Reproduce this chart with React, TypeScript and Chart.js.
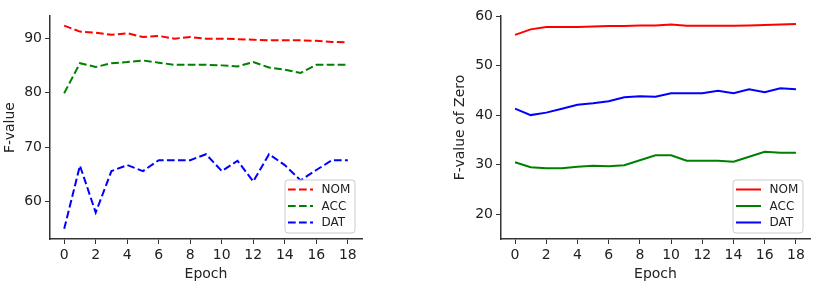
import React, { useEffect, useRef } from 'react';
import { Chart, registerables } from 'chart.js';

Chart.register(...registerables);

const epochs = [0, 1, 2, 3, 4, 5, 6, 7, 8, 9, 10, 11, 12, 13, 14, 15, 16, 17, 18];
const xTicks = [0, 2, 4, 6, 8, 10, 12, 14, 16, 18];
const leftYTicks = [60, 70, 80, 90];
const rightYTicks = [20, 30, 40, 50, 60];
const seriesNames = ['NOM', 'ACC', 'DAT'];
const seriesColors = ['#ff0000', '#008000', '#0000ff'];

// Left panel: F-value
const fNom = [92.3, 91.2, 91.0, 90.6, 90.9, 90.2, 90.4, 89.9, 90.2, 89.9, 89.9, 89.8, 89.7, 89.6, 89.6, 89.6, 89.5, 89.3, 89.2];
const fAcc = [79.9, 85.4, 84.7, 85.4, 85.6, 85.9, 85.5, 85.1, 85.1, 85.1, 85.0, 84.8, 85.6, 84.6, 84.2, 83.6, 85.1, 85.1, 85.1];
const fDat = [55.0, 66.6, 58.0, 65.6, 66.7, 65.6, 67.6, 67.6, 67.6, 68.7, 65.6, 67.5, 63.7, 68.7, 66.7, 63.9, 65.8, 67.6, 67.6];

// Right panel: F-value of Zero
const zNom = [56.2, 57.3, 57.8, 57.8, 57.8, 57.9, 58.0, 58.0, 58.1, 58.1, 58.3, 58.05, 58.05, 58.05, 58.05, 58.1, 58.2, 58.3, 58.4];
const zAcc = [30.5, 29.5, 29.3, 29.3, 29.6, 29.8, 29.7, 29.9, 30.9, 31.9, 31.9, 30.8, 30.8, 30.8, 30.6, 31.6, 32.6, 32.4, 32.4];
const zDat = [41.3, 40.0, 40.5, 41.3, 42.1, 42.4, 42.8, 43.6, 43.8, 43.7, 44.4, 44.4, 44.4, 44.9, 44.4, 45.2, 44.6, 45.4, 45.2];

const FONT = '"DejaVu Sans", sans-serif';
const AXIS_COLOR = '#333333';
const TEXT_COLOR = '#222222';

const boxLegend = {
  id: 'boxLegend',
  afterDraw(chart: any) {
    const ctx = chart.ctx;
    const area = chart.chartArea;
    const w = 70;
    const h = 53;
    const right = area.right - 7;
    const bottom = area.bottom - 6;
    const left = right - w;
    const top = bottom - h;
    ctx.save();
    ctx.beginPath();
    const r = 3;
    ctx.moveTo(left + r, top);
    ctx.lineTo(left + w - r, top);
    ctx.quadraticCurveTo(left + w, top, left + w, top + r);
    ctx.lineTo(left + w, top + h - r);
    ctx.quadraticCurveTo(left + w, top + h, left + w - r, top + h);
    ctx.lineTo(left + r, top + h);
    ctx.quadraticCurveTo(left, top + h, left, top + h - r);
    ctx.lineTo(left, top + r);
    ctx.quadraticCurveTo(left, top, left + r, top);
    ctx.closePath();
    ctx.fillStyle = 'rgba(255,255,255,0.8)';
    ctx.fill();
    ctx.strokeStyle = '#cccccc';
    ctx.lineWidth = 1;
    ctx.stroke();
    chart.data.datasets.forEach((ds: any, i: number) => {
      const y = top + 9.5 + i * 16.5;
      ctx.beginPath();
      ctx.setLineDash(ds.borderDash || []);
      ctx.strokeStyle = ds.borderColor;
      ctx.lineWidth = ds.borderWidth;
      ctx.moveTo(left + 3, y);
      ctx.lineTo(left + 28, y);
      ctx.stroke();
      ctx.setLineDash([]);
      ctx.fillStyle = TEXT_COLOR;
      ctx.font = '12px ' + FONT;
      ctx.textBaseline = 'middle';
      ctx.textAlign = 'left';
      ctx.fillText(ds.label, left + 36.5, y + 0.5);
    });
    ctx.restore();
  },
};

function makeConfig(opts: {
  series: number[][];
  dash: number[];
  yMin: number;
  yMax: number;
  yTicks: number[];
  yTitle: string;
  yWidth: number;
  yTitleOffset: number;
  padRight: number;
}) {
  return {
    type: 'line',
    data: {
      datasets: opts.series.map((vals, i) => ({
        label: seriesNames[i],
        data: epochs.map((e, j) => ({ x: e, y: vals[j] })),
        borderColor: seriesColors[i],
        backgroundColor: seriesColors[i],
        borderWidth: 2,
        borderDash: opts.dash,
        pointRadius: 0,
        tension: 0,
        fill: false,
      })),
    },
    options: {
      animation: false,
      responsive: false,
      layout: { padding: { top: 16, right: opts.padRight, left: 0, bottom: 0 } },
      plugins: { legend: { display: false }, tooltip: { enabled: false } },
      scales: {
        x: {
          type: 'linear',
          min: -0.9,
          max: 18.9,
          afterBuildTicks: (s: any) => {
            s.ticks = xTicks.map((v) => ({ value: v }));
          },
          afterFit: (s: any) => {
            s.height = 49;
          },
          grid: { drawOnChartArea: false, drawTicks: true, tickLength: 5, color: AXIS_COLOR, lineWidth: 1 },
          border: { display: true, color: AXIS_COLOR, width: 1.5 },
          ticks: { color: TEXT_COLOR, font: { family: FONT, size: 14 }, padding: 3, maxRotation: 0 },
          title: {
            display: true,
            text: 'Epoch',
            color: TEXT_COLOR,
            font: { family: FONT, size: 14 },
            padding: { top: 0, bottom: 5.6 },
          },
        },
        y: {
          type: 'linear',
          min: opts.yMin,
          max: opts.yMax,
          afterBuildTicks: (s: any) => {
            s.ticks = opts.yTicks.map((v) => ({ value: v }));
          },
          afterFit: (s: any) => {
            s.width = opts.yWidth;
          },
          grid: { drawOnChartArea: false, drawTicks: true, tickLength: 5, color: AXIS_COLOR, lineWidth: 1 },
          border: { display: true, color: AXIS_COLOR, width: 1.5 },
          ticks: { color: TEXT_COLOR, font: { family: FONT, size: 14 }, padding: 3 },
          title: {
            display: true,
            text: opts.yTitle,
            color: TEXT_COLOR,
            font: { family: FONT, size: 14 },
            padding: { top: opts.yTitleOffset, bottom: 0 },
          },
        },
      },
    },
    plugins: [boxLegend],
  } as any;
}

export default function App() {
  const leftRef = useRef<HTMLCanvasElement>(null);
  const rightRef = useRef<HTMLCanvasElement>(null);

  useEffect(() => {
    const c1 = new Chart(
      leftRef.current as HTMLCanvasElement,
      makeConfig({
        series: [fNom, fAcc, fDat],
        dash: [7.7, 3.3],
        yMin: 53.14,
        yMax: 94.06,
        yTicks: leftYTicks,
        yTitle: 'F-value',
        yWidth: 50,
        yTitleOffset: 1.6,
        padRight: 53,
      })
    );
    const c2 = new Chart(
      rightRef.current as HTMLCanvasElement,
      makeConfig({
        series: [zNom, zAcc, zDat],
        dash: [],
        yMin: 15,
        yMax: 60,
        yTicks: rightYTicks,
        yTitle: 'F-value of Zero',
        yWidth: 86,
        yTitleOffset: 36.6,
        padRight: 21,
      })
    );
    return () => {
      c1.destroy();
      c2.destroy();
    };
  }, []);

  return (
    <div style={{ position: 'absolute', left: 0, top: 0, width: 831, height: 288, background: '#fff' }}>
      <canvas ref={leftRef} width={415} height={288} style={{ position: 'absolute', left: 0, top: 0, width: 415, height: 288 }} />
      <canvas ref={rightRef} width={416} height={288} style={{ position: 'absolute', left: 415, top: 0, width: 416, height: 288 }} />
    </div>
  );
}
